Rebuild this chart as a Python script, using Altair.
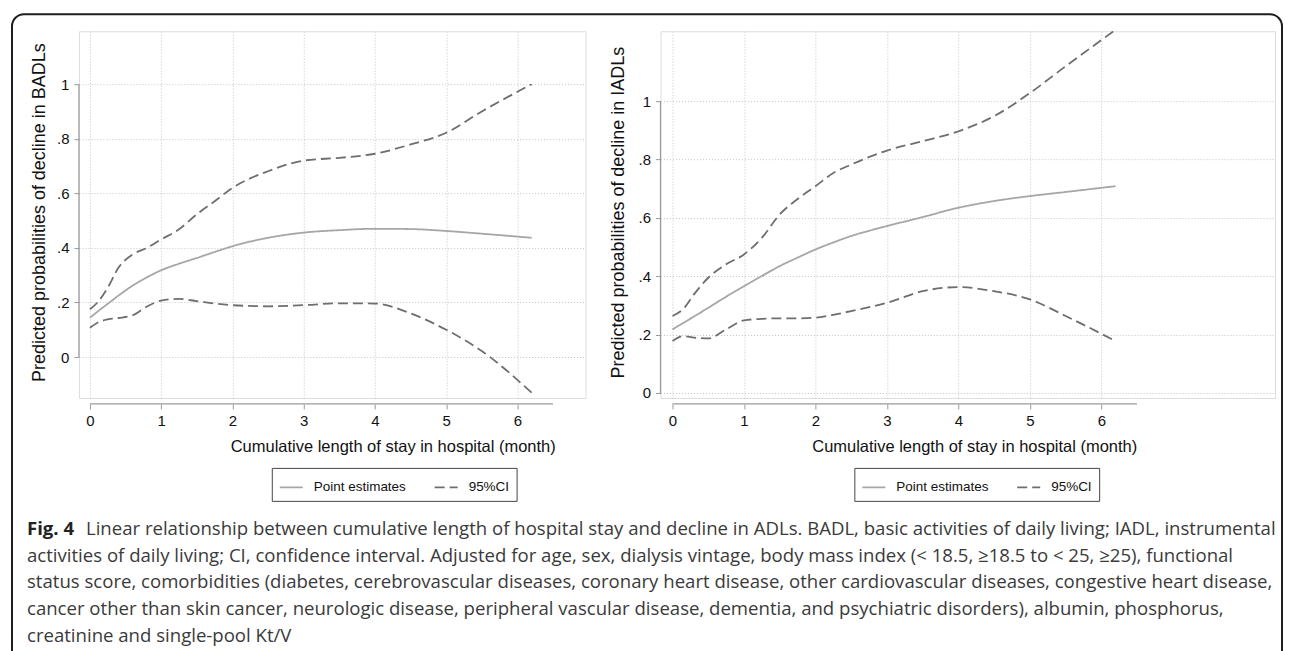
import altair as alt
import pandas as pd

# ---------------- data ----------------
months_badl = [0, 0.1, 0.25, 0.4, 0.6, 0.8, 1.0, 1.25, 1.5, 1.75, 2.0, 2.5, 3.0, 3.5, 4.0, 4.5, 5.0, 5.5, 6.2]
badl_point = [0.144, 0.165, 0.195, 0.225, 0.262, 0.292, 0.318, 0.342, 0.363, 0.385, 0.406, 0.437, 0.456, 0.465, 0.470, 0.469, 0.462, 0.452, 0.437]
badl_upper = [0.175, 0.198, 0.254, 0.327, 0.376, 0.400, 0.431, 0.468, 0.523, 0.571, 0.620, 0.681, 0.720, 0.730, 0.745, 0.779, 0.822, 0.900, 1.000]
badl_lower = [0.107, 0.125, 0.138, 0.143, 0.153, 0.185, 0.207, 0.213, 0.205, 0.196, 0.190, 0.186, 0.190, 0.197, 0.196, 0.160, 0.100, 0.022, -0.131]

months_iadl = [0, 0.15, 0.3, 0.5, 0.75, 1.0, 1.25, 1.5, 1.75, 2.0, 2.25, 2.5, 3.0, 3.5, 4.0, 4.5, 5.0, 5.5, 6.2]
iadl_point = [0.218, 0.240, 0.262, 0.292, 0.330, 0.366, 0.401, 0.435, 0.464, 0.492, 0.516, 0.538, 0.572, 0.603, 0.635, 0.658, 0.675, 0.689, 0.709]
iadl_upper = [0.264, 0.288, 0.338, 0.395, 0.441, 0.475, 0.532, 0.612, 0.665, 0.709, 0.754, 0.783, 0.831, 0.863, 0.897, 0.949, 1.028, 1.120, 1.245]
iadl_lower = [0.178, 0.195, 0.190, 0.187, 0.218, 0.249, 0.254, 0.256, 0.256, 0.258, 0.268, 0.281, 0.309, 0.349, 0.363, 0.349, 0.321, 0.264, 0.178]

series_names = ["Point estimates", "95%CI"]
x_ticks = [0, 1, 2, 3, 4, 5, 6]
y_ticks = [0, 0.2, 0.4, 0.6, 0.8, 1]
axis_line_x = [0, 6.5]
axis_line_y = [0, 1]
x_title = "Cumulative length of stay in hospital (month)"
y_title_badl = "Predicted probabilities of decline in BADLs"
y_title_iadl = "Predicted probabilities of decline in IADLs"

caption_bold = "Fig. 4"
caption_lines = [
    "Linear relationship between cumulative length of hospital stay and decline in ADLs. BADL, basic activities of daily living; IADL, instrumental",
    "activities of daily living; CI, confidence interval. Adjusted for age, sex, dialysis vintage, body mass index (< 18.5, \u226518.5 to < 25, \u226525), functional",
    "status score, comorbidities (diabetes, cerebrovascular diseases, coronary heart disease, other cardiovascular diseases, congestive heart disease,",
    "cancer other than skin cancer, neurologic disease, peripheral vascular disease, dementia, and psychiatric disorders), albumin, phosphorus,",
    "creatinine and single-pool Kt/V",
]

FONT = "Liberation Sans"
CAP_FONT = "Open Sans"
CAP_SIZE = 18.6
H = 367


def long_df(months, point, upper, lower):
    rows = []
    for m, p, u, l in zip(months, point, upper, lower):
        rows.append({"month": m, "prob": p, "series": series_names[0], "curve": "point"})
        rows.append({"month": m, "prob": u, "series": series_names[1], "curve": "upper"})
        rows.append({"month": m, "prob": l, "series": series_names[1], "curve": "lower"})
    return pd.DataFrame(rows)


def panel(df, ytitle, xdom, ydom, width, legend_x, ytitle_x):
    legend = alt.Legend(
        title=None, orient="none", legendX=legend_x, legendY=437,
        direction="horizontal", symbolType="stroke", symbolSize=529,
        symbolStrokeWidth=1.8, labelFont=FONT, labelFontSize=13.5,
        labelColor="#111111", labelOffset=10, columnPadding=24,
        padding=7, strokeColor="#444444", labelBaseline="middle",
    )
    x_enc = alt.X(
        "month:Q",
        scale=alt.Scale(domain=xdom, nice=False, zero=False),
        axis=alt.Axis(
            values=x_ticks, format="d", grid=True, gridDash=[1, 2],
            gridColor="#c4c4c4", gridWidth=1, domain=False, offset=6,
            tickSize=5, tickColor="#9a9a9a", labelFont=FONT, labelFontSize=15,
            labelColor="#111111", labelPadding=5, title=x_title,
            titleFont=FONT, titleFontSize=16.5, titleFontWeight="normal",
            titleColor="#111111", titleX=314, titleY=48,
            titleBaseline="alphabetic", titleAlign="center",
        ),
    )
    y_enc = alt.Y(
        "prob:Q",
        scale=alt.Scale(domain=ydom, nice=False, zero=False),
        axis=alt.Axis(
            values=y_ticks,
            labelExpr="datum.value == 0 ? '0' : datum.value == 1 ? '1' : '.' + format(datum.value * 10, '.0f')",
            grid=True, gridDash=[1, 2], gridColor="#c4c4c4", gridWidth=1,
            domain=False, tickSize=5, tickColor="#9a9a9a", labelFont=FONT,
            labelFontSize=15, labelColor="#111111", labelPadding=5,
            title=ytitle, titleFont=FONT, titleFontSize=18,
            titleFontWeight="normal", titleColor="#111111",
            titleX=ytitle_x, titleY=181, titleBaseline="middle",
            titleAlign="center", titleAngle=270,
        ),
    )
    lines = alt.Chart(df).mark_line(interpolate="monotone", strokeWidth=1.8, clip=False).encode(
        x=x_enc,
        y=y_enc,
        color=alt.Color("series:N", scale=alt.Scale(domain=series_names, range=["#a6a6a6", "#6e6e6e"]), legend=legend),
        strokeDash=alt.StrokeDash("series:N", scale=alt.Scale(domain=series_names, range=[[1, 0], [10, 5]]), legend=legend),
        detail="curve:N",
        order="month:Q",
    )
    yline = alt.Chart(pd.DataFrame({"lo": [axis_line_y[0]], "hi": [axis_line_y[1]]})).mark_rule(
        color="#9a9a9a", strokeWidth=1.2
    ).encode(x=alt.value(0), y="lo:Q", y2="hi:Q")
    xline = alt.Chart(pd.DataFrame({"lo": [axis_line_x[0]], "hi": [axis_line_x[1]]})).mark_rule(
        color="#9a9a9a", strokeWidth=1.2
    ).encode(x="lo:Q", x2="hi:Q", y=alt.value(H + 6))
    return alt.layer(lines, yline, xline).properties(width=width, height=H)


left_core = panel(long_df(months_badl, badl_point, badl_upper, badl_lower),
                  y_title_badl, [-0.154, 6.956], [-0.150, 1.194], 507, 193, -39)
right = panel(long_df(months_iadl, iadl_point, iadl_upper, iadl_lower),
              y_title_iadl, [-0.168, 8.43], [-0.017, 1.24], 615, 194, -42)

# caption (figure legend text under both panels)
cap_df = pd.DataFrame({"line": list(range(len(caption_lines))), "text": caption_lines})
cap_y = alt.Y("line:Q", scale=alt.Scale(domain=[0, 4], range=[504, 610.8]), axis=None)
cap_bold = alt.Chart(pd.DataFrame({"line": [0], "text": [caption_bold]})).mark_text(
    align="left", baseline="alphabetic", font=CAP_FONT, fontSize=CAP_SIZE,
    fontWeight="bold", color="#222222"
).encode(x=alt.value(-52), y=cap_y, text="text:N")
cap_first = alt.Chart(cap_df).transform_filter("datum.line == 0").mark_text(
    align="left", baseline="alphabetic", font=CAP_FONT, fontSize=CAP_SIZE,
    color="#3a3a3a", dx=59
).encode(x=alt.value(-52), y=cap_y, text="text:N")
cap_rest = alt.Chart(cap_df).transform_filter("datum.line > 0").mark_text(
    align="left", baseline="alphabetic", font=CAP_FONT, fontSize=CAP_SIZE,
    color="#3a3a3a"
).encode(x=alt.value(-52), y=cap_y, text="text:N")

frame = alt.Chart(pd.DataFrame({"k": [0]})).mark_rect(
    filled=False, stroke="#1e1e1e", strokeWidth=2, cornerRadius=12
).encode(x=alt.value(-67), x2=alt.value(1204), y=alt.value(-17), y2=alt.value(640))

left = alt.layer(left_core, cap_bold, cap_first, cap_rest, frame).resolve_scale(y="independent")

chart = alt.hconcat(left, right, spacing=75, bounds="flush").resolve_scale(
    color="independent", strokeDash="independent"
).resolve_legend(color="independent", strokeDash="independent").properties(
    padding={"left": 2, "top": 4, "right": 0, "bottom": 0}
).configure_view(strokeWidth=0).configure(background="white")

chart.save("out.html", embed_options={"renderer": "svg", "actions": False})
